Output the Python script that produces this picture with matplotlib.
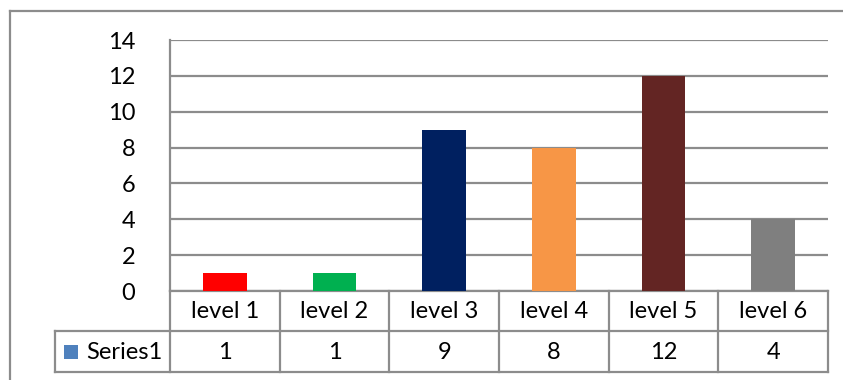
import matplotlib
matplotlib.use("Agg")
import matplotlib.pyplot as plt
from matplotlib.lines import Line2D
from matplotlib.patches import Rectangle
import matplotlib.transforms as mtrans

categories = ["level 1", "level 2", "level 3", "level 4", "level 5", "level 6"]
values = [1, 1, 9, 8, 12, 4]
bar_colors = ["#ff0000", "#00b050", "#002060", "#f79646", "#632523", "#7f7f7f"]
series_name = "Series1"
yticks = [0, 2, 4, 6, 8, 10, 12, 14]

W, H = 843, 380
FONT = "Lato"
FS = 17
GRID = "#8c8c8c"

fig = plt.figure(figsize=(W / 100, H / 100), dpi=100)

def fx(px):
    return px / W

def fy(py):
    return 1 - py / H

# plot area: x 170..828, y 40..291 (pixels)
left, right, top, bottom = 170, 828, 40, 291
ax = fig.add_axes([fx(left), fy(bottom), fx(right - left), (bottom - top) / H])
x = list(range(len(categories)))
ax.bar(x, values, width=0.4, color=bar_colors, zorder=3)
ax.set_xlim(-0.5, len(categories) - 0.5)
ax.set_ylim(0, 14)
ax.set_yticks(yticks)
ax.set_yticklabels([str(t) for t in yticks], fontfamily=FONT, fontsize=FS)
ax.tick_params(axis="y", length=0, pad=25)
ax.set_xticks([])
ax.yaxis.grid(True, color=GRID, linewidth=1.6, zorder=0)
ax.set_axisbelow(True)
for s in ["top", "right", "bottom"]:
    ax.spines[s].set_visible(False)
ax.spines["left"].set_color(GRID)
ax.spines["left"].set_linewidth(1.6)

# data table below
ph = bottom - top
def ay(py):
    return -(py - bottom) / ph

row1_bot = 331
row2_bot = 372
col_w = (right - left) / len(categories)
first_left_px = 55
first_left = -0.5 - (left - first_left_px) / col_w

tr = mtrans.blended_transform_factory(ax.transData, ax.transAxes)
lkw = dict(color=GRID, linewidth=1.6, transform=tr, clip_on=False)

# horizontal lines
ax.plot([-0.5, len(categories) - 0.5], [ay(bottom), ay(bottom)], **lkw)
ax.plot([first_left, len(categories) - 0.5], [ay(row1_bot), ay(row1_bot)], **lkw)
ax.plot([first_left, len(categories) - 0.5], [ay(row2_bot), ay(row2_bot)], **lkw)
# vertical lines
for i in range(len(categories) + 1):
    xv = i - 0.5
    ax.plot([xv, xv], [ay(bottom), ay(row2_bot)], **lkw)
ax.plot([first_left, first_left], [ay(row1_bot), ay(row2_bot)], **lkw)

# texts
for i, (c, v) in enumerate(zip(categories, values)):
    ax.text(i, ay((bottom + row1_bot) / 2 + 1), c, transform=tr, ha="center", va="center",
            fontfamily=FONT, fontsize=FS)
    ax.text(i, ay((row1_bot + row2_bot) / 2 + 1), str(v), transform=tr, ha="center", va="center",
            fontfamily=FONT, fontsize=FS)

# legend key + series name
key_left = first_left + (64 - first_left_px) / col_w
key_w = 14 / col_w
key_h = 14 / ph
ax.add_patch(Rectangle((key_left, ay(359)), key_w, key_h, transform=tr, clip_on=False,
                       facecolor="#4f81bd", edgecolor="none"))
ax.text(first_left + (86 - first_left_px) / col_w, ay((row1_bot + row2_bot) / 2 + 1), series_name,
        transform=tr, ha="left", va="center", fontfamily=FONT, fontsize=FS)

# outer chart border (left and top)
fig.add_artist(Line2D([fx(9.5), fx(9.5)], [fy(10.5), 0], transform=fig.transFigure,
                      color=GRID, linewidth=1.6))
fig.add_artist(Line2D([fx(9.5), 1], [fy(10.5), fy(10.5)], transform=fig.transFigure,
                      color=GRID, linewidth=1.6))

fig.savefig("out.png", dpi=100)
